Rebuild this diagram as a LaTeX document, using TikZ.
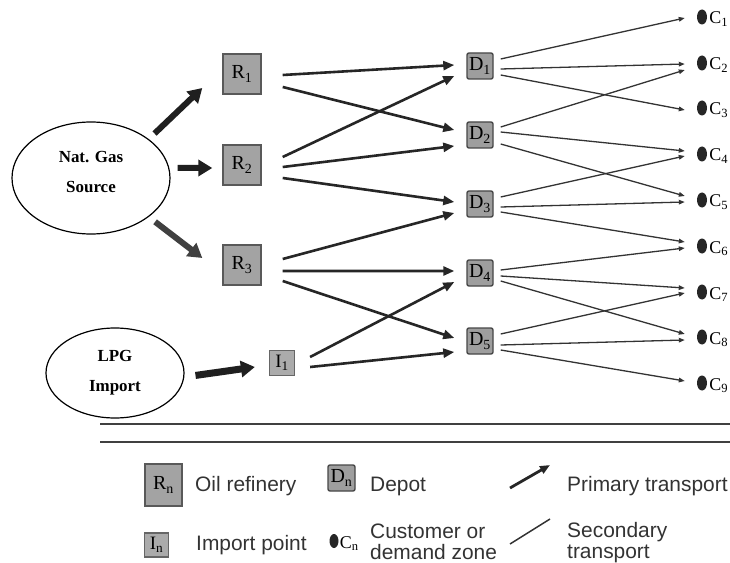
\documentclass[tikz,border=0pt]{standalone}
\usepackage{fontspec}
\setmainfont{Liberation Serif}
\setsansfont{Liberation Sans}
\usetikzlibrary{arrows.meta,shapes.geometric,calc}
\tikzset{
  refbox/.style={draw=black!65, fill=black!36, line width=1.4bp, minimum width=38bp, minimum height=40bp, inner sep=0pt, font=\fontsize{20}{20}\selectfont},
  depbox/.style={draw=black!72, fill=black!38, line width=1.4bp, rounded corners=2bp, minimum width=26bp, minimum height=26bp, inner sep=0pt, font=\fontsize{20}{20}\selectfont},
  impbox/.style={draw=black!60, fill=black!33, line width=1.2bp, minimum width=25bp, minimum height=25bp, inner sep=0pt, font=\fontsize{19}{19}\selectfont},
  cdot/.style={ellipse, fill=black!85, minimum width=10bp, minimum height=15bp, inner sep=0pt},
  clab/.style={anchor=base west, inner sep=0pt, font=\fontsize{18}{18}\selectfont},
  prim/.style={line width=2.6bp, draw=black!85, -{Triangle[length=11bp,width=9bp]}},
  sec/.style={line width=1.3bp, draw=black!80, -{Triangle[length=6bp,width=4.5bp]}},
  bigarr/.style={line width=6bp, draw=black!88, -{Triangle[length=14bp,width=16bp]}},
  src/.style={ellipse, draw, line width=1.2bp, inner sep=0pt},
  srctext/.style={align=center, font=\bfseries\fontsize{17}{30}\selectfont},
  legtext/.style={inner sep=0pt, align=left, font=\sffamily\fontsize{21}{21}\selectfont, text=black!80},
}
\begin{document}
\begin{tikzpicture}[x=1bp,y=-1bp]
\useasboundingbox[fill=white] (0,0) rectangle (730,563);

% sources
\node[src, minimum width=158bp, minimum height=112bp] (NG) at (91,178) {};
\node[srctext] (NGt) at (91,172) {Nat. Gas\\Source};
\node[src, minimum width=138bp, minimum height=90bp, srctext] (LPG) at (115,373) {LPG\\Import};

% refineries and import point
\node[refbox] (R1) at (242,74) {R\textsubscript{1}};
\node[refbox] (R2) at (242,165) {R\textsubscript{2}};
\node[refbox] (R3) at (242,265) {R\textsubscript{3}};
\node[impbox] (I1) at (282,363) {I\textsubscript{1}};

% depots
\node[depbox] (D1) at (480,66) {D\textsubscript{1}};
\node[depbox] (D2) at (480,135) {D\textsubscript{2}};
\node[depbox] (D3) at (480,204) {D\textsubscript{3}};
\node[depbox] (D4) at (480,273) {D\textsubscript{4}};
\node[depbox] (D5) at (480,341) {D\textsubscript{5}};

% customers
\foreach \i/\y in {1/17,2/63,3/108,4/154,5/200,6/246,7/292,8/337,9/383}{
  \node[cdot] (C\i) at (702,\y) {};
  \node[clab] (CL\i) at ([xshift=2bp,yshift=-7bp]C\i.east) {C\textsubscript{\i}};
}

% source arrows
\draw[bigarr, shorten <=8bp] (NG.34) -- ([xshift=-20bp,yshift=-14bp]R1.west);
\draw[bigarr, shorten <=7bp] ([yshift=10bp]NG.east) -- ([xshift=-10bp,yshift=-3bp]R2.west);
\draw[bigarr, draw=black!75, shorten <=8bp] (NG.-34) -- ([xshift=-20bp,yshift=7bp]R3.west);
\draw[bigarr, line width=7bp, shorten <=11bp] ([yshift=-4bp]LPG.east) -- ([xshift=-14bp,yshift=-4bp]I1.west);

% primary transport
\foreach \s/\t/\a/\b in {R1/D1/-1/1, R1/D2/-13/5, R2/D1/8/-10, R2/D2/-2/-11, R2/D3/-13/2,
                         R3/D3/6/-9, R3/D4/-6/2, R3/D5/-16/3}{
  \draw[prim] ([xshift=21bp,yshift=\a bp]\s.east) -- ([xshift=-12bp,yshift=\b bp]\t.west);
}
\foreach \t/\a/\b in {D4/6/-9, D5/-4/-11}{
  \draw[prim] ([xshift=15bp,yshift=\a bp]I1.east) -- ([xshift=-12bp,yshift=\b bp]\t.west);
}

% secondary transport
\foreach \s/\t/\a/\b in {D1/C1/7/-1, D1/C2/-3/-1, D1/C3/-9/-2,
                         D2/C2/8/-7, D2/C4/3/3, D2/C5/-9/4,
                         D3/C4/7/-2, D3/C5/-3/-2, D3/C6/-8/4,
                         D4/C6/3/-2, D4/C7/-3/4, D4/C8/-8/3,
                         D5/C7/7/-1, D5/C8/-4/-3, D5/C9/-9/2}{
  \draw[sec] ([xshift=7bp,yshift=\a bp]\s.east) -- ([xshift=-12bp,yshift=\b bp]\t.west);
}

% separator lines
\coordinate (L1a) at (100,424); \coordinate (L1b) at (730,424);
\coordinate (L2a) at (100,442); \coordinate (L2b) at (730,442);
\draw[line width=1.4bp, black!75] (L1a) -- (L1b);
\draw[line width=1.4bp, black!75] (L2a) -- (L2b);

% legend
\node[refbox, minimum width=37bp, minimum height=42bp] (LR) at (163.5,485) {R\textsubscript{n}};
\node[legtext, anchor=base west] (LRt) at (195,491) {Oil refinery};
\node[depbox, minimum width=27bp] (LD) at (341.5,478) {D\textsubscript{n}};
\node[legtext, anchor=base west] (LDt) at (370,491) {Depot};
\coordinate (PA) at (510,488); \coordinate (PB) at (550,465);
\draw[prim, line width=2.8bp, -{Triangle[length=10bp,width=8bp]}] (PA) -- (PB);
\node[legtext, anchor=base west] (LPt) at (567,491) {Primary transport};

\node[impbox, minimum width=24bp, minimum height=24bp] (LI) at (156.5,545) {I\textsubscript{n}};
\node[legtext, anchor=base west] (LIt) at (196,550) {Import point};
\node[cdot, minimum width=9bp, minimum height=14bp] (LC) at (334,541) {};
\node[clab] (LCt) at ([xshift=1bp,yshift=-7bp]LC.east) {C\textsubscript{n}};
\node[legtext, anchor=west] (LCd) at (370,542) {Customer or\\demand zone};
\coordinate (SA) at (510,544); \coordinate (SB) at (550,519);
\draw[line width=1.5bp, black!80] (SA) -- (SB);
\node[legtext, anchor=west] (LSt) at (567,543) {Secondary\\transport};
\end{tikzpicture}
\end{document}
